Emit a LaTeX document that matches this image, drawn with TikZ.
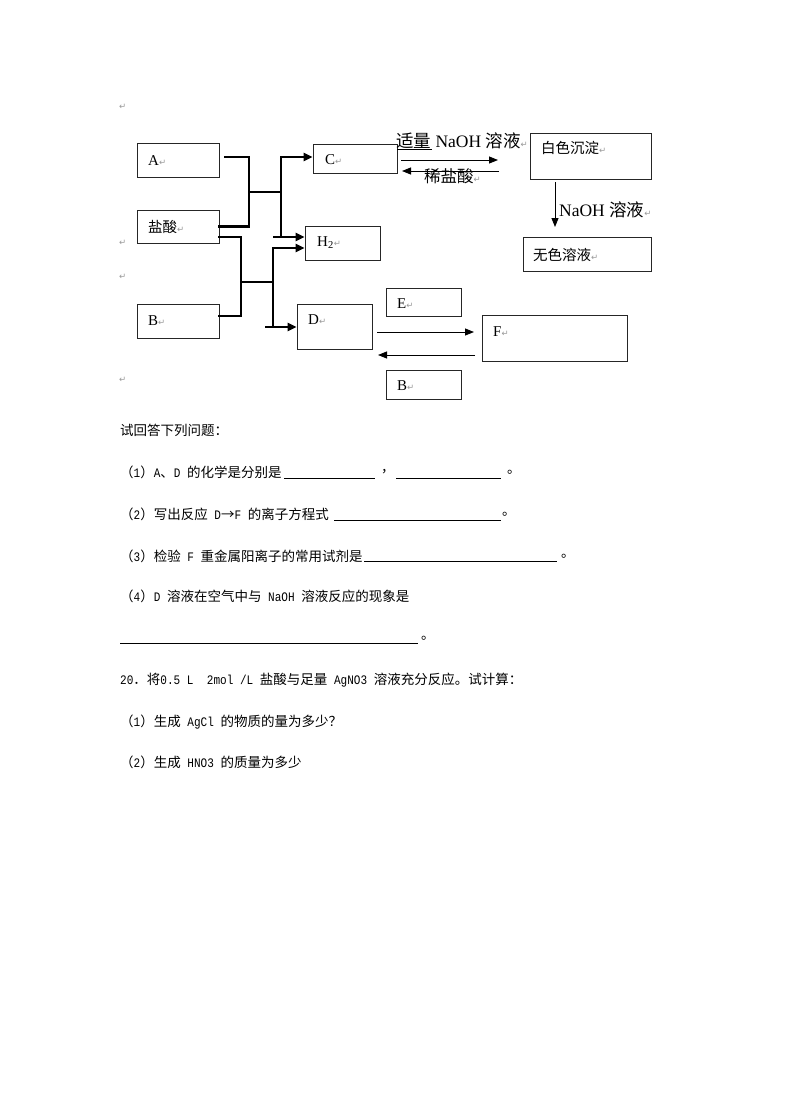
\documentclass[tikz,border=0pt]{standalone}
\usepackage{fontspec}
\setmainfont{Liberation Serif}
\newfontfamily\cjk{Noto Sans CJK SC}
\newfontfamily\dvs{DejaVu Sans}
\newfontfamily\mono[FakeStretch=0.85]{Liberation Mono}
\usetikzlibrary{arrows.meta}
\newcommand\parmark{{\dvs\fontsize{8.5}{8.5}\selectfont\color{black!40}↵}}
\newcommand\lt[1]{{\mono\fontsize{13}{13}\selectfont #1}}
\begin{document}
\begin{tikzpicture}[x=1pt,y=-1pt,
  box/.style={draw=black!85,line width=0.9pt,inner sep=0pt},
  lbl/.style={inner sep=0pt,anchor=west,font=\fontsize{15}{15}\selectfont},
  clbl/.style={inner sep=0pt,anchor=west,font=\cjk\fontsize{14.5}{14.5}\selectfont},
  big/.style={inner sep=0pt,anchor=west,font=\fontsize{17.5}{17.5}\selectfont},
  txt/.style={inner sep=0pt,anchor=west,font=\cjk\fontsize{13.5}{13.5}\selectfont},
  mk/.style={inner sep=0pt,anchor=west},
  thk/.style={line width=2.3pt,line cap=rect},
  thkar/.style={line width=2.3pt,-{Triangle[length=9pt,width=8pt]}},
  thn/.style={line width=0.9pt,-{Triangle[length=9pt,width=7pt]}},
  ul/.style={line width=0.8pt}]
\useasboundingbox[fill=white] (0,0) rectangle (790,1119);

% boxes
\node[box,minimum width=82pt,minimum height=34pt] (A) at (178,160) {};
\node[box,minimum width=82pt,minimum height=33pt] (S) at (178,226.5) {};
\node[box,minimum width=82pt,minimum height=34pt] (B) at (178,321) {};
\node[box,minimum width=84pt,minimum height=29pt] (C) at (355,158.5) {};
\node[box,minimum width=75pt,minimum height=34pt] (H) at (342.5,243) {};
\node[box,minimum width=75pt,minimum height=45pt] (D) at (334.5,326.5) {};
\node[box,minimum width=75pt,minimum height=28pt] (E) at (423.5,302) {};
\node[box,minimum width=145pt,minimum height=46pt] (F) at (554.5,338) {};
\node[box,minimum width=75pt,minimum height=29pt] (B2) at (423.5,384.5) {};
\node[box,minimum width=121pt,minimum height=46pt] (W) at (590.5,156) {};
\node[box,minimum width=128pt,minimum height=34pt] (N) at (587,254) {};

% box texts
\node[lbl] (tA) at (148,161) {A\parmark};
\node[clbl] (tS) at (148,227) {盐酸\parmark};
\node[lbl] (tB) at (148,321) {B\parmark};
\node[lbl] (tC) at (325,160) {C\parmark};
\node[lbl] (tH) at (317,243) {H\textsubscript{2}\parmark};
\node[lbl] (tD) at (308,320) {D\parmark};
\node[lbl] (tE) at (397,304) {E\parmark};
\node[lbl] (tF) at (493,332) {F\parmark};
\node[lbl] (tB2) at (397,386) {B\parmark};
\node[clbl] (tW) at (541,148) {白色沉淀\parmark};
\node[clbl] (tN) at (533,255) {无色溶液\parmark};

% margin marks
\node[mk] (m1) at (119,107) {\parmark};
\node[mk] (m2) at (119,243) {\parmark};
\node[mk] (m3) at (119,277) {\parmark};
\node[mk] (m4) at (119,380) {\parmark};

% junction coordinates
\coordinate (a1) at ([xshift=6pt,yshift=3pt]A.east);
\coordinate (s1) at ([yshift=0pt]S.east);
\coordinate (s2) at ([yshift=-10.5pt]S.east);
\coordinate (b1) at ([yshift=5pt]B.east);
\coordinate (j1) at (249,192);
\coordinate (j2) at (281,192);
\coordinate (k1) at (241,282);
\coordinate (k2) at (273,282);
\coordinate (tc) at (281,157);
\coordinate (th) at (281,237);
\coordinate (th0) at (273,237);
\coordinate (uh) at (273,248);
\coordinate (ud) at (273,327);
\coordinate (ud0) at (265,327);

\draw[thk] (a1) -| (j1) |- (s1);
\draw[thk] (j1) -- (j2);
\draw[thk] (tc) -- (th);
\draw[thkar] (tc) -- (C.west |- tc);
\draw[thkar] (th0) -- (H.west |- th0);
\draw[thk] (s2) -| (k1) |- (b1);
\draw[thk] (k1) -- (k2);
\draw[thk] (uh) -- (ud);
\draw[thkar] (uh) -- (H.west |- uh);
\draw[thkar] (ud0) -- (D.west |- ud0);

% thin arrows
\coordinate (cw1) at (401,160);
\coordinate (cw2) at (498,160);
\coordinate (wc1) at (499,171);
\coordinate (wc2) at (402,171);
\draw[thn] (cw1) -- (cw2);
\draw[thn] (wc1) -- (wc2);
\coordinate (wn1) at (555,182);
\coordinate (wn2) at (555,227);
\draw[thn] (wn1) -- (wn2);
\coordinate (df1) at (377,332);
\coordinate (df2) at (474,332);
\coordinate (fd1) at (475,355);
\coordinate (fd2) at (378,355);
\draw[thn] (df1) -- (df2);
\draw[thn] (fd1) -- (fd2);

% arrow labels
\node[big] (l1) at (396,141) {{\cjk 适量} NaOH {\cjk 溶液}\parmark};
\draw[line width=0.8pt] (397,149) -- (432,149);
\node[big,font=\fontsize{16.5}{16.5}\selectfont] (l2) at (424,176) {\cjk 稀盐酸\parmark};
\node[big] (l3) at (559,210) {NaOH {\cjk 溶液}\parmark};

% question text
\node[txt] (q0) at (120,430) {试回答下列问题：};
\node[txt] (q1) at (120,472) {（\lt{1}）\lt{A}、\lt{D }的化学是分别是};
\draw[ul] (284,478) -- (375,478);
\node[txt] (q1b) at (381,472) {，};
\draw[ul] (396,478) -- (501,478);
\node[txt] (q1c) at (507,472) {。};
\node[txt] (q2) at (120,514) {（\lt{2}）写出反应\lt{ D}→\lt{F }的离子方程式};
\draw[ul] (334,520) -- (501,520);
\node[txt] (q2c) at (502,514) {。};
\node[txt] (q3) at (120,556) {（\lt{3}）检验\lt{ F }重金属阳离子的常用试剂是};
\draw[ul] (364,561) -- (557,561);
\node[txt] (q3c) at (561,556) {。};
\node[txt] (q4) at (120,596) {（\lt{4}）\lt{D }溶液在空气中与\lt{ NaOH }溶液反应的现象是};
\draw[ul] (120,643) -- (418,643);
\node[txt] (q4c) at (421,638) {。};
\node[txt] (q5) at (120,680) {\lt{20}．将\lt{0.5 L\ \ 2mol /L }盐酸与足量\lt{ AgNO3 }溶液充分反应。试计算：};
\node[txt] (q6) at (120,722) {（\lt{1}）生成\lt{ AgCl }的物质的量为多少？};
\node[txt] (q7) at (120,762) {（\lt{2}）生成\lt{ HNO3 }的质量为多少};
\end{tikzpicture}
\end{document}
